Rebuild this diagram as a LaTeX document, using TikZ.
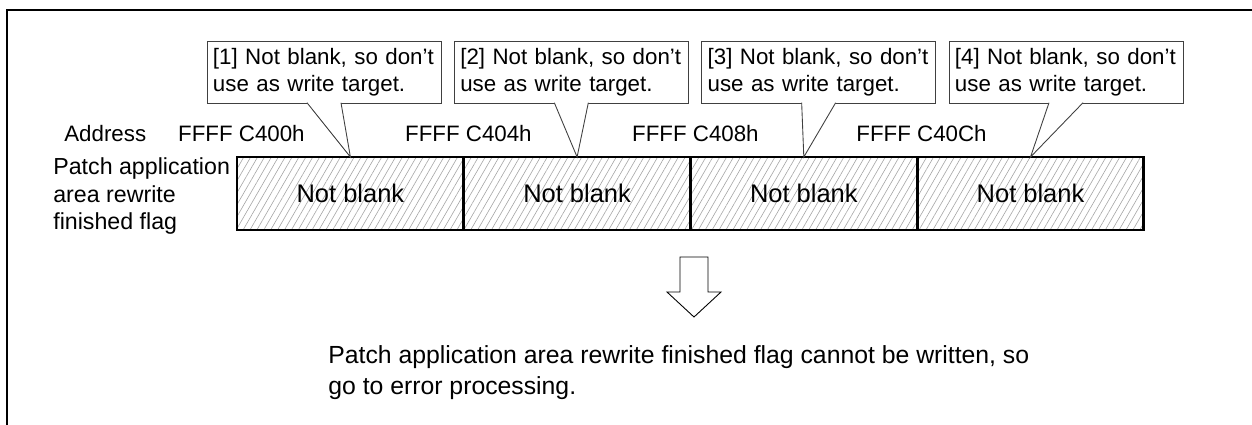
\documentclass[tikz,border=0pt]{standalone}
\usepackage{fontspec}
\setmainfont{Liberation Sans}
\usetikzlibrary{positioning,patterns.meta}

\begin{document}
\begin{tikzpicture}[x=0.02cm,y=-0.02cm]
% Estilos
\tikzstyle{cell} = [rectangle, draw=black, line width=1.6pt, minimum width=4.535cm, minimum height=1.46cm, inner sep=0pt, outer sep=0pt, font=\fontsize{14.5}{16}\selectfont, pattern={Lines[angle=60,distance=3.4pt,line width=0.35pt]}, pattern color=black!35]
\tikzstyle{note} = [rectangle, draw=black!75, line width=0.5pt, fill=white, text width=4.68cm-6.8pt, minimum height=1.24cm, inner xsep=3.4pt, inner ysep=0pt, align=left, font=\fontsize{12.7}{15.3}\selectfont]
\tikzstyle{pointer} = [draw=black!75, line width=0.5pt, fill=white]
\tikzstyle{addrtext} = [inner sep=0pt, font=\fontsize{12.7}{15.3}\selectfont]
\tikzstyle{blockarrow} = [draw=black, line width=0.5pt, fill=white]

\useasboundingbox (0,0) rectangle (1252,424);

% Marco
\draw[line width=1.1pt] (7,440) -- (7,10) -- (1262,10);

% Celdas del flag
\node[cell] (cell1) at (350.4,193.5) {Not blank};
\node[cell, right=0cm of cell1] (cell2) {Not blank};
\node[cell, right=0cm of cell2] (cell3) {Not blank};
\node[cell, right=0cm of cell3] (cell4) {Not blank};

% Etiqueta izquierda
\node[addrtext, anchor=west, align=left, font=\fontsize{13.2}{15.6}\selectfont] (flagname) at (53,196) {Patch application\\area rewrite\\finished flag};

% Direcciones
\node[addrtext, anchor=base west] (addrtitle) at (64,141) {Address};
\node[addrtext, anchor=base east] (addr1) at (305,141) {FFFF C400h};
\node[addrtext, anchor=base east] (addr2) at (532,141) {FFFF C404h};
\node[addrtext, anchor=base east] (addr3) at (759,141) {FFFF C408h};
\node[addrtext, anchor=base east] (addr4) at (987,141) {FFFF C40Ch};

% Notas
\node[note] (note1) at (324,72) {[1] Not blank, so don’t\\use as write target.};
\node[note, right=0.25cm of note1] (note2) {[2] Not blank, so don’t\\use as write target.};
\node[note, right=0.25cm of note2] (note3) {[3] Not blank, so don’t\\use as write target.};
\node[note, right=0.25cm of note3] (note4) {[4] Not blank, so don’t\\use as write target.};

\draw[pointer] ([xshift=-0.34cm,yshift=0.4pt]note1.south) -- (cell1.north) -- ([xshift=0.34cm,yshift=0.4pt]note1.south);
\draw[pointer] ([xshift=-0.34cm,yshift=0.4pt]note2.south) -- (cell2.north) -- ([xshift=0.34cm,yshift=0.4pt]note2.south);
\draw[pointer] ([xshift=-0.34cm,yshift=0.4pt]note3.south) -- (cell3.north) -- ([xshift=0.34cm,yshift=0.4pt]note3.south);
\draw[pointer] ([xshift=-0.34cm,yshift=0.4pt]note4.south) -- (cell4.north) -- ([xshift=0.34cm,yshift=0.4pt]note4.south);

% Flecha
\coordinate (arrowtop) at (694,257);
\draw[blockarrow] (arrowtop) ++(-14,0) -- ++(28,0) -- ++(0,35) -- ++(13,0) -- ++(-27,25) -- ++(-27,-25) -- ++(13,0) -- cycle;

% Resultado
\node[addrtext, anchor=west, align=left, font=\fontsize{14.1}{17.6}\selectfont] (result) at (328,373) {Patch application area rewrite finished flag cannot be written, so\\go to error processing.};
\end{tikzpicture}
\end{document}
